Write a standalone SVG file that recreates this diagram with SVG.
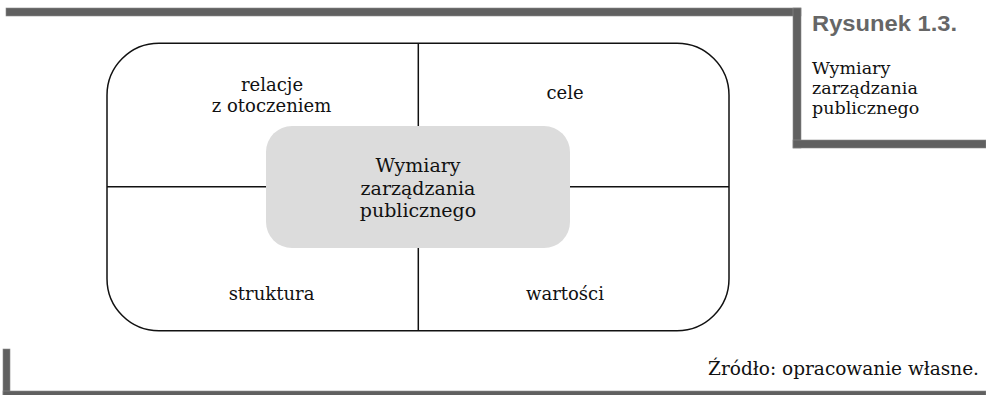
<svg xmlns="http://www.w3.org/2000/svg" width="986" height="395" viewBox="0 0 986 395">
<style>
.bar{fill:#606060;stroke:#8a8a8a;stroke-width:0.6}
.lbl{font-family:"DejaVu Serif","Liberation Serif",serif;font-size:18px;fill:#111;text-anchor:middle}
.cap{font-family:"DejaVu Serif","Liberation Serif",serif;font-size:17.5px;fill:#111}
.title{font-family:"Liberation Sans",Arial,sans-serif;font-size:22px;font-weight:bold;fill:#666}
.ln{stroke:#111;stroke-width:1.5;fill:none}
</style>
<rect width="986" height="395" fill="#fff"/>
<g id="frame-bars">
<rect class="bar" x="6" y="8" width="795" height="8"/>
<rect class="bar" x="793" y="8" width="8" height="140"/>
<rect class="bar" x="793" y="140" width="193" height="8"/>
<rect class="bar" x="3" y="349" width="7" height="46"/>
<rect class="bar" x="3" y="391" width="983" height="8"/>
</g>
<g id="caption">
<text class="title" x="812" y="31" textLength="145" lengthAdjust="spacingAndGlyphs">Rysunek 1.3.</text>
<text class="cap" x="812" y="74">Wymiary</text>
<text class="cap" x="812" y="94">zarządzania</text>
<text class="cap" x="812" y="114">publicznego</text>
</g>
<g id="outer">
<rect class="ln" x="107" y="43.3" width="622" height="287.5" rx="52" ry="52"/>
</g>
<g id="connectors">
<line class="ln" x1="418.3" y1="43.3" x2="418.3" y2="126"/>
<line class="ln" x1="418.3" y1="248" x2="418.3" y2="330.8"/>
<line class="ln" x1="107" y1="186.7" x2="266" y2="186.7"/>
<line class="ln" x1="570" y1="186.7" x2="729" y2="186.7"/>
</g>
<g id="center">
<rect x="266" y="126" width="304" height="122" rx="26" ry="26" fill="#dcdcdc"/>
<text class="lbl" x="418" y="172" style="font-size:19px">Wymiary</text>
<text class="lbl" x="418" y="194.5" style="font-size:19px">zarządzania</text>
<text class="lbl" x="418" y="217" style="font-size:19px">publicznego</text>
</g>
<g id="relacje">
<text class="lbl" x="272" y="90.5">relacje</text>
<text class="lbl" x="271.5" y="111.5">z otoczeniem</text>
</g>
<g id="cele">
<text class="lbl" x="565" y="99">cele</text>
</g>
<g id="struktura">
<text class="lbl" x="271.5" y="300">struktura</text>
</g>
<g id="wartosci">
<text class="lbl" x="565" y="300">wartości</text>
</g>
<g id="source">
<text class="cap" x="979" y="375" text-anchor="end" style="font-size:18.5px">Źródło: opracowanie własne.</text>
</g>
</svg>
